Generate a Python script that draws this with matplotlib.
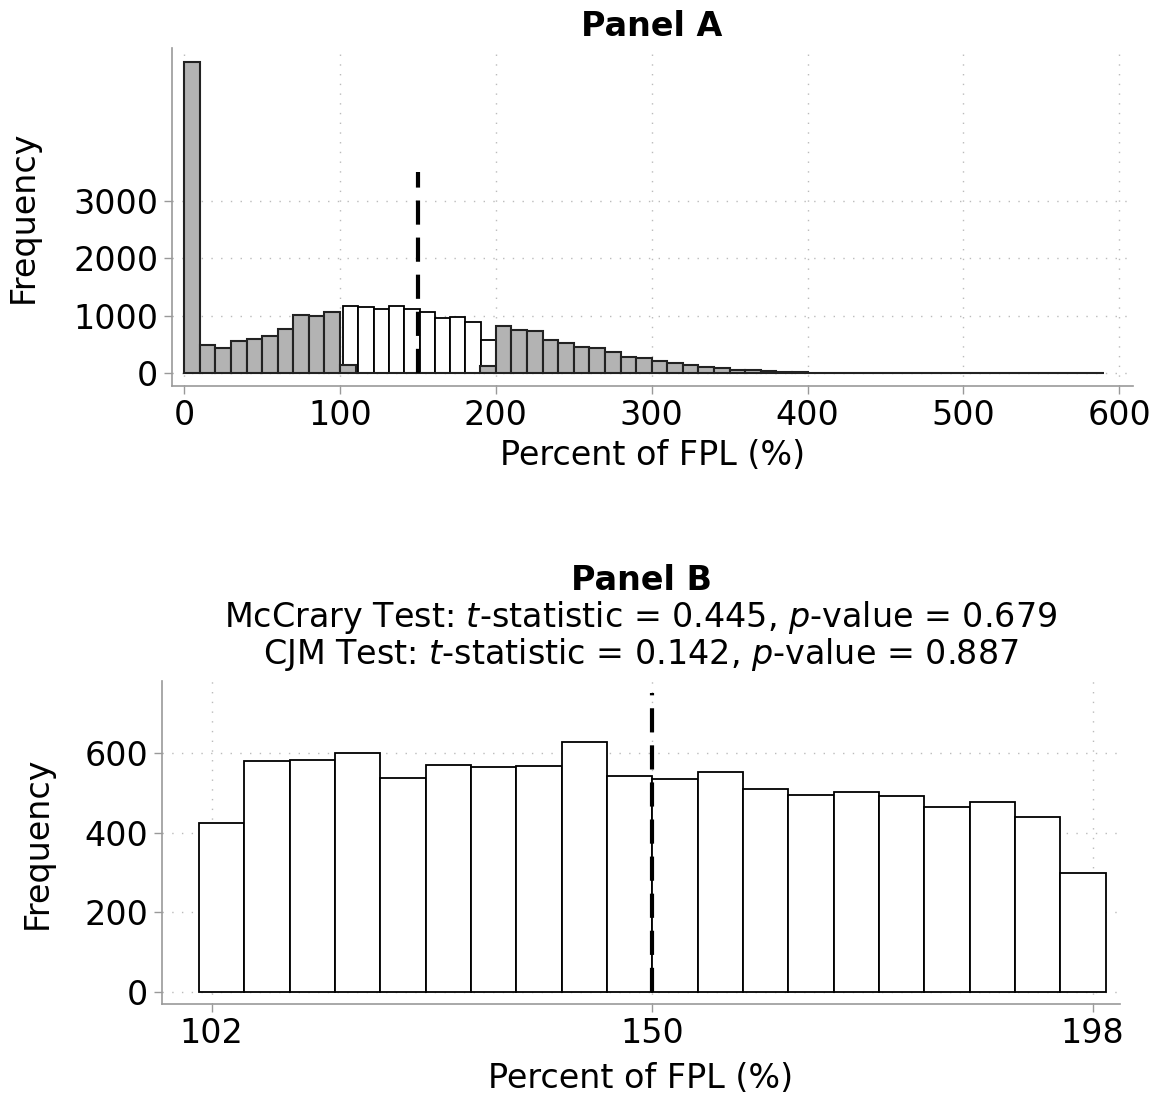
import numpy as np
import matplotlib.pyplot as plt

# Panel A: full distribution, bins of 10 from 0 to 590
a_edges = np.arange(0, 600, 10)
a_gray = [5430, 497, 439, 567, 602, 655, 772, 1023, 1006, 1070,
          146, 0, 0, 0, 0, 0, 0, 0, 0, 122,
          826, 762, 738, 587, 535, 453, 448, 378, 279, 267,
          221, 186, 145, 116, 99, 64, 58, 47, 29, 29,
          12, 5, 4, 3, 3, 2, 2, 2, 1, 1,
          1, 1, 1, 1, 1, 1, 1, 1, 1]
# window bins around the cutoff
a_white_edges = np.linspace(102, 200, 11)
a_white = [1169, 1160, 1114, 1172, 1128, 1070, 971, 983, 901, 587]

# Panel B: zoom on the window, 20 bins
b_edges = np.linspace(100.6, 199.4, 21)
b_counts = [425, 581, 582, 602, 539, 571, 566, 569, 628, 544,
            535, 554, 509, 494, 502, 493, 465, 477, 439, 300]

cutoff = 150
cut_top_a = 3500
cut_top_b = 752

fs = 24
grid_kw = dict(color='#bbbbbb', linestyle=(0, (1, 6)), linewidth=1)


def style(ax):
    for s in ['top', 'right']:
        ax.spines[s].set_visible(False)
    for s in ['left', 'bottom']:
        ax.spines[s].set_color('#999999')
        ax.spines[s].set_linewidth(1.2)
    ax.tick_params(colors='#999999', labelcolor='black', labelsize=fs,
                   length=6, width=1)
    ax.grid(True, **grid_kw)
    ax.set_axisbelow(True)


fig = plt.figure(figsize=(11.59, 10.94), dpi=100)

ax1 = fig.add_axes([0.1481, 0.6472, 0.8292, 0.3089])
ax1.bar(a_white_edges[:-1], a_white, width=np.diff(a_white_edges), align='edge',
        color='white', edgecolor='black', linewidth=1.3, zorder=2)
ax1.bar(a_edges[:-1], a_gray, width=10, align='edge',
        color='#b3b3b3', edgecolor='#222222', linewidth=1.5, zorder=3)
ax1.plot([cutoff, cutoff], [0, cut_top_a], color='black', lw=3,
         linestyle=(0, (5.8, 3.1)), zorder=4)
ax1.set_xlim(-8.1, 608.7)
ax1.set_ylim(-221, 5667)
ax1.set_xticks([0, 100, 200, 300, 400, 500, 600])
ax1.set_yticks([0, 1000, 2000, 3000])
style(ax1)
ax1.set_xlabel('Percent of FPL (%)', fontsize=fs, labelpad=5)
ax1.set_ylabel('Frequency', fontsize=fs, labelpad=24)
ax1.set_title('Panel A', fontsize=fs, fontweight='bold', pad=9)

ax2 = fig.add_axes([0.1395, 0.0820, 0.8268, 0.2958])
ax2.bar(b_edges[:-1], b_counts, width=np.diff(b_edges), align='edge',
        color='white', edgecolor='black', linewidth=1.3, zorder=2)
ax2.plot([cutoff, cutoff], [0, cut_top_b], color='black', lw=3,
         linestyle=(0, (5.8, 3.1)), zorder=4)
ax2.set_xlim(96.55, 200.97)
ax2.set_ylim(-31.7, 782.8)
ax2.set_xticks([102, 150, 198])
ax2.set_yticks([0, 200, 400, 600])
style(ax2)
ax2.set_xlabel('Percent of FPL (%)', fontsize=fs, labelpad=8)
ax2.set_ylabel('Frequency', fontsize=fs, labelpad=22)
ax2.set_title('McCrary Test: $t$-statistic = 0.445, $p$-value = 0.679\n'
              'CJM Test: $t$-statistic = 0.142, $p$-value = 0.887',
              fontsize=fs, pad=12, linespacing=1.0)
fig.text(0.5533, 0.4698, 'Panel B', ha='center', va='center',
         fontsize=fs, fontweight='bold')

fig.savefig('out.png', dpi=100)
